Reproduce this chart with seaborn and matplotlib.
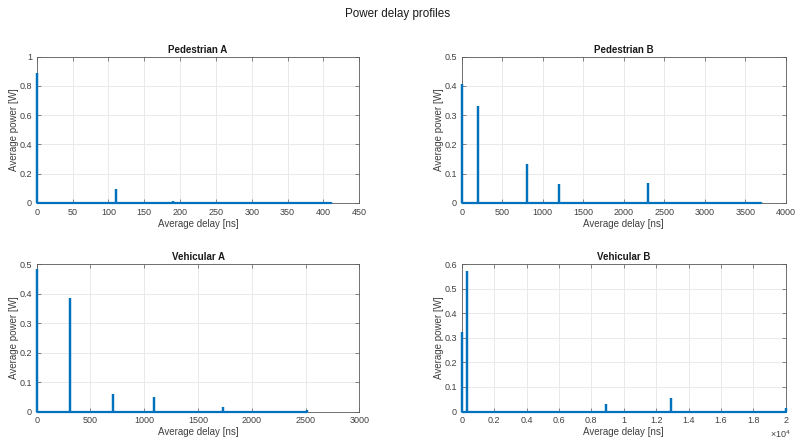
import numpy as np
import pandas as pd
import seaborn as sns
import matplotlib
matplotlib.use("Agg")
import matplotlib.pyplot as plt
from matplotlib.ticker import FuncFormatter

# ITU channel models: tap delays [ns] and normalised average tap power [W]
ped_a_delay = [0, 110, 190, 410]
ped_a_power = [0.889, 0.095, 0.011, 0.005]

ped_b_delay = [0, 200, 800, 1200, 2300, 3700]
ped_b_power = [0.406, 0.330, 0.131, 0.064, 0.067, 0.002]

veh_a_delay = [0, 310, 710, 1090, 1730, 2510]
veh_a_power = [0.485, 0.385, 0.061, 0.048, 0.015, 0.005]

veh_b_delay = [0, 300, 8900, 12900, 17100, 20000]
veh_b_power = [0.323, 0.574, 0.030, 0.057, 0.002, 0.014]

titles = ["Pedestrian A", "Pedestrian B", "Vehicular A", "Vehicular B"]
x_limits = [(0, 450), (0, 4000), (0, 3000), (0, 20000)]
x_steps = [50, 500, 500, 2000]
y_limits = [(0, 1), (0, 0.5), (0, 0.5), (0, 0.6)]
y_steps = [0.2, 0.1, 0.1, 0.1]

profiles = [
    (ped_a_delay, ped_a_power),
    (ped_b_delay, ped_b_power),
    (veh_a_delay, veh_a_power),
    (veh_b_delay, veh_b_power),
]

sns.set_theme(style="white")
plt.rcParams["font.family"] = ["Liberation Sans", "DejaVu Sans"]
plt.rcParams["mathtext.fontset"] = "custom"
plt.rcParams["mathtext.rm"] = "Liberation Sans"

LINE = "#0072BD"
AX = "#5a5a5a"
TXT = "#404040"


def impulse_train(delays, powers):
    """Profile sampled as a zero baseline with a spike at every tap delay."""
    xs, ys = [], []
    for d, p in zip(delays, powers):
        xs += [d, d, d]
        ys += [0.0, p, 0.0]
    return pd.DataFrame({"delay": xs, "power": ys})


fig = plt.figure(figsize=(7.96, 4.41), dpi=100)
W, H = 796, 441
boxes = [
    (36.7, 56.7, 359.3, 202.7),
    (461.7, 56.7, 785.7, 202.7),
    (36.7, 264.3, 359.3, 411.5),
    (461.7, 264.3, 785.7, 411.5),
]

for i, ((delays, powers), (l, t, r, b)) in enumerate(zip(profiles, boxes)):
    ax = fig.add_axes([l / W, 1 - b / H, (r - l) / W, (b - t) / H])
    df = impulse_train(delays, powers)
    sns.lineplot(data=df, x="delay", y="power", sort=False, estimator=None,
                 color=LINE, lw=1.6, ax=ax, solid_joinstyle="bevel",
                 solid_capstyle="butt", clip_on=False, zorder=5)
    x0, x1 = x_limits[i]
    y0, y1 = y_limits[i]
    ax.set_xlim(x0, x1)
    ax.set_ylim(y0, y1)
    ax.set_xticks(np.arange(x0, x1 + x_steps[i] / 2, x_steps[i]))
    ax.set_yticks(np.arange(y0, y1 + y_steps[i] / 2, y_steps[i]))
    ax.yaxis.set_major_formatter(FuncFormatter(lambda v, _: f"{v:g}"))
    if i == 3:
        ax.xaxis.set_major_formatter(FuncFormatter(lambda v, _: f"{v / 1e4:g}"))
        ax.text(1.015, -0.155, r"$\times10^{4}$", transform=ax.transAxes,
                ha="right", va="center", fontsize=6.5, color=TXT)
    else:
        ax.xaxis.set_major_formatter(FuncFormatter(lambda v, _: f"{v:g}"))
    ax.grid(True, color="#e6e6e6", lw=0.6)
    ax.set_axisbelow(True)
    for s in ax.spines.values():
        s.set_color(AX)
        s.set_linewidth(0.6)
    ax.tick_params(direction="in", length=3, width=0.5, color=AX,
                   labelsize=6.5, labelcolor=TXT, pad=3.5,
                   top=True, right=True, bottom=True, left=True)
    ax.set_xlabel("Average delay [ns]", fontsize=7, color=TXT, labelpad=1.5)
    ax.set_ylabel("Average power [W]", fontsize=7, color=TXT, labelpad=0.5)
    ax.set_title(titles[i], fontsize=7, fontweight="bold", color="#1a1a1a",
                 pad=3)

fig.suptitle("Power delay profiles", fontsize=8.4, color="#1a1a1a",
             y=1 - 14 / H, va="center")

fig.savefig("out.png", dpi=100)
